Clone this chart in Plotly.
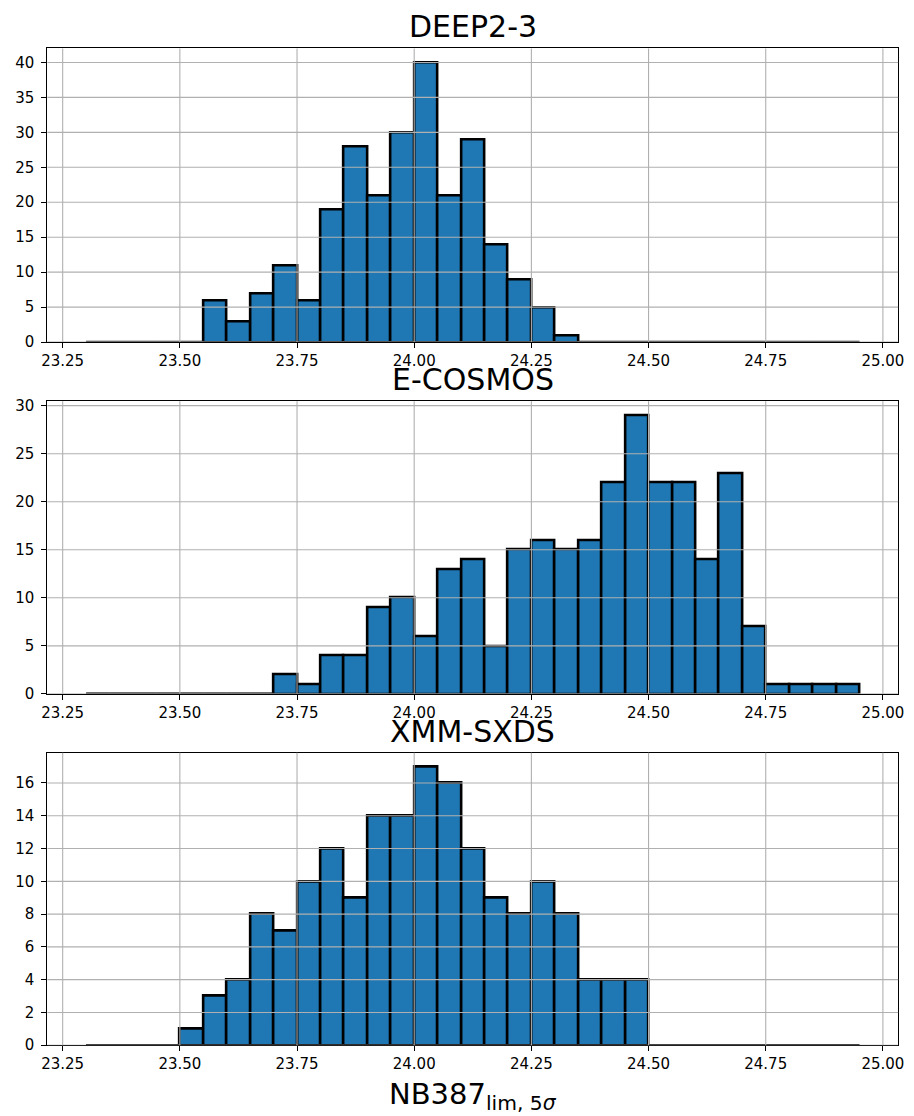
import numpy as np
import plotly.graph_objects as go

# Histogram bins: 23.30 .. 24.95 in steps of 0.05
bin_start = 23.30
bin_width = 0.05
n_bins = 33

fields = ["DEEP2-3", "E-COSMOS", "XMM-SXDS"]

counts_deep2 = [0, 0, 0, 0, 0, 6, 3, 7, 11, 6, 19, 28, 21, 30, 40, 21, 29,
                14, 9, 5, 1, 0, 0, 0, 0, 0, 0, 0, 0, 0, 0, 0, 0]
counts_ecosmos = [0, 0, 0, 0, 0, 0, 0, 0, 2, 1, 4, 4, 9, 10, 6, 13, 14,
                  5, 15, 16, 15, 16, 22, 29, 22, 22, 14, 23, 7, 1, 1, 1, 1]
counts_xmm = [0, 0, 0, 0, 1, 3, 4, 8, 7, 10, 12, 9, 14, 14, 17, 16, 12,
              9, 8, 10, 8, 4, 4, 4, 0, 0, 0, 0, 0, 0, 0, 0, 0]

x_tick_vals = [23.25, 23.50, 23.75, 24.00, 24.25, 24.50, 24.75, 25.00]
x_tick_text = ["23.25", "23.50", "23.75", "24.00", "24.25", "24.50", "24.75", "25.00"]
y_dticks = [5, 5, 2]

all_counts = [counts_deep2, counts_ecosmos, counts_xmm]

edges = bin_start + bin_width * np.arange(n_bins + 1)
centers = (edges[:-1] + edges[1:]) / 2

W, H = 914, 1116
x_dom = [42 / W, 904 / W]
panel_px = [(45, 342), (402, 698), (757.5, 1053.5)]

BLUE = "#1f77b4"
GRID = "#b0b0b0"
x_lo = edges[0] - 0.05 * (edges[-1] - edges[0])
x_hi = edges[-1] + 0.05 * (edges[-1] - edges[0])

fig = go.Figure()
shapes = []
annotations = []

for i, (name, counts) in enumerate(zip(fields, all_counts)):
    sfx = "" if i == 0 else str(i + 1)
    xa, ya = "x" + sfx, "y" + sfx
    top_px, bot_px = panel_px[i]
    y_dom = [1 - bot_px / H, 1 - top_px / H]
    ymax = max(counts) * 1.05

    fig.add_trace(go.Bar(
        x=centers, y=counts, width=bin_width,
        marker=dict(color=BLUE, line=dict(color="black", width=2.6)),
        xaxis=xa, yaxis=ya, showlegend=False,
    ))

    # empty bins still show their outline along the baseline
    zx, zy = [], []
    for k, c in enumerate(counts):
        if c == 0:
            zx += [edges[k], edges[k + 1], None]
            zy += [0, 0, None]
    if zx:
        fig.add_trace(go.Scatter(
            x=zx, y=zy, mode="lines", line=dict(color="#222222", width=2.6),
            xaxis=xa, yaxis=ya, showlegend=False, hoverinfo="skip",
        ))

    axis_common = dict(
        showline=True, mirror=True, linecolor="black", linewidth=1.2,
        ticks="outside", ticklen=5, tickwidth=1, tickcolor="black",
        showgrid=False, zeroline=False,
        tickfont=dict(family="DejaVu Sans", size=15, color="black"),
    )
    fig.update_layout(**{
        ("xaxis" + sfx): dict(
            domain=x_dom, anchor=ya, range=[x_lo, x_hi],
            tickvals=x_tick_vals, ticktext=x_tick_text, **axis_common),
        ("yaxis" + sfx): dict(
            domain=y_dom, anchor=xa, range=[0, ymax],
            tick0=0, dtick=y_dticks[i], ticklabelstandoff=4, **axis_common),
    })

    # grid drawn over the bars
    for xv in x_tick_vals:
        shapes.append(dict(type="line", xref=xa, yref=ya + " domain",
                           x0=xv, x1=xv, y0=0, y1=1, layer="above",
                           line=dict(color=GRID, width=1.1)))
    yv = 0
    while yv <= ymax:
        shapes.append(dict(type="line", xref=xa + " domain", yref=ya,
                           x0=0, x1=1, y0=yv, y1=yv, layer="above",
                           line=dict(color=GRID, width=1.1)))
        yv += y_dticks[i]

    annotations.append(dict(
        text=name, xref="paper", yref="paper",
        x=(x_dom[0] + x_dom[1]) / 2, y=y_dom[1] + 2 / H,
        xanchor="center", yanchor="bottom", showarrow=False,
        font=dict(family="DejaVu Sans", size=30, color="black"),
    ))

annotations.append(dict(
    text="NB387<sub>lim, 5<i>σ</i></sub>", xref="paper", yref="paper",
    x=(x_dom[0] + x_dom[1]) / 2, y=0, yshift=-10,
    xanchor="center", yanchor="bottom", showarrow=False,
    font=dict(family="DejaVu Sans", size=29, color="black"),
))

fig.update_layout(
    width=W, height=H, autosize=False,
    margin=dict(l=0, r=0, t=0, b=0),
    paper_bgcolor="white", plot_bgcolor="white",
    bargap=0, barmode="overlay",
    shapes=shapes, annotations=annotations,
)

fig.write_html("out.html")
